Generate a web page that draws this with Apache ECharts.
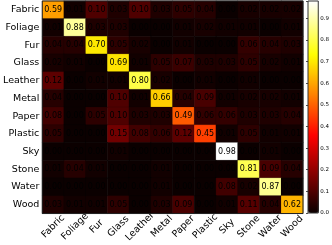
<!DOCTYPE html>
<html><head><meta charset="utf-8">
<script src="https://cdn.jsdelivr.net/npm/echarts@6/dist/echarts.min.js"></script>
<style>html,body{margin:0;padding:0;background:#fff}#c{width:332px;height:245px}</style>
</head><body><div id="c"></div>
<script>
const classes = ['Fabric','Foliage','Fur','Glass','Leather','Metal','Paper','Plastic','Sky','Stone','Water','Wood'];
const rowFabric  = [0.59,0.01,0.10,0.03,0.10,0.03,0.05,0.04,0.00,0.02,0.02,0.02];
const rowFoliage = [0.01,0.88,0.03,0.03,0.00,0.00,0.01,0.02,0.01,0.01,0.00,0.01];
const rowFur     = [0.04,0.04,0.70,0.05,0.02,0.00,0.01,0.00,0.00,0.06,0.04,0.03];
const rowGlass   = [0.02,0.01,0.00,0.69,0.01,0.05,0.07,0.03,0.03,0.05,0.02,0.01];
const rowLeather = [0.12,0.00,0.01,0.01,0.80,0.02,0.00,0.01,0.00,0.01,0.00,0.00];
const rowMetal   = [0.04,0.00,0.00,0.10,0.01,0.66,0.04,0.09,0.01,0.02,0.02,0.01];
const rowPaper   = [0.08,0.00,0.05,0.10,0.03,0.03,0.49,0.06,0.06,0.03,0.03,0.04];
const rowPlastic = [0.05,0.00,0.00,0.15,0.08,0.06,0.12,0.45,0.01,0.05,0.01,0.01];
const rowSky     = [0.00,0.00,0.00,0.01,0.00,0.00,0.00,0.00,0.98,0.00,0.01,0.00];
const rowStone   = [0.01,0.04,0.01,0.00,0.00,0.01,0.00,0.00,0.00,0.81,0.09,0.04];
const rowWater   = [0.00,0.00,0.00,0.00,0.00,0.01,0.00,0.00,0.08,0.02,0.87,0.00];
const rowWood    = [0.03,0.01,0.01,0.05,0.00,0.03,0.09,0.00,0.01,0.11,0.04,0.62];
const rows = [rowFabric,rowFoliage,rowFur,rowGlass,rowLeather,rowMetal,rowPaper,rowPlastic,rowSky,rowStone,rowWater,rowWood];
const colorbarTicks = [0.0,0.1,0.2,0.3,0.4,0.5,0.6,0.7,0.8,0.9];

const data = [];
rows.forEach((r, yi) => r.forEach((v, xi) => data.push([xi, yi, v])));

// matplotlib 'hot' colormap samples
function hot(t){
  const r = t < 0.365079 ? 0.0416 + (1-0.0416)*t/0.365079 : 1;
  const g = t < 0.365079 ? 0 : (t < 0.746032 ? (t-0.365079)/(0.746032-0.365079) : 1);
  const b = t < 0.746032 ? 0 : (t-0.746032)/(1-0.746032);
  return 'rgb(' + Math.round(r*255) + ',' + Math.round(g*255) + ',' + Math.round(b*255) + ')';
}
const hotColors = [];
for (let i = 0; i <= 60; i++) hotColors.push(hot(i/60));

const FONT = 'DejaVu Sans';
const chart = echarts.init(document.getElementById('c'), null, {renderer:'canvas'});
chart.setOption({
  animation: false,
  textStyle: {fontFamily: FONT},
  grid: [
    {left: 37, top: 1, width: 266, height: 213, show: true, z: 10, backgroundColor: 'transparent', borderColor: '#222', borderWidth: 1},
    {left: 308, top: 1, width: 11, height: 212, show: true, z: 10, backgroundColor: 'transparent', borderColor: '#333', borderWidth: 1}
  ],
  xAxis: [
    {type: 'category', data: classes, gridIndex: 0, axisLine: {show: false}, axisTick: {show: false}, splitLine: {show: false},
     axisLabel: {rotate: 45, align: 'center', verticalAlign: 'middle', margin: 13, fontSize: 9.5, color: '#000', fontFamily: FONT, interval: 0}},
    {type: 'value', gridIndex: 1, show: false, min: 0, max: 1}
  ],
  yAxis: [
    {type: 'category', data: classes, inverse: true, gridIndex: 0, axisLine: {show: false}, axisTick: {show: false}, splitLine: {show: false},
     axisLabel: {fontSize: 9.5, color: '#000', margin: 3, fontFamily: FONT, interval: 0}},
    {type: 'value', gridIndex: 1, min: 0, max: 0.98, interval: 0.1, position: 'right',
     axisLine: {show: false}, splitLine: {show: false},
     axisTick: {show: true, inside: true, length: 2, lineStyle: {color: '#222', width: 0.8}},
     axisLabel: {fontSize: 5.5, color: '#000', margin: 2, fontFamily: FONT,
       formatter: v => (colorbarTicks.some(t => Math.abs(t - v) < 1e-6) ? v.toFixed(1) : '')}}
  ],
  visualMap: {
    type: 'continuous', min: 0, max: 0.98, dimension: 2, seriesIndex: 0,
    show: true, calculable: false, orient: 'vertical', left: 308, top: 1, padding: 0,
    itemWidth: 11, itemHeight: 212, text: null, showLabel: false,
    inRange: {color: hotColors}
  },
  series: [
    {type: 'heatmap', xAxisIndex: 0, yAxisIndex: 0, data: data,
     itemStyle: {borderColor: 'rgba(0,0,0,0.25)', borderWidth: 0.6},
     label: {show: true, color: '#000', fontSize: 8, fontFamily: FONT, formatter: p => p.value[2].toFixed(2)}},
    {type: 'line', xAxisIndex: 1, yAxisIndex: 1, data: []}
  ]
});
</script></body></html>
